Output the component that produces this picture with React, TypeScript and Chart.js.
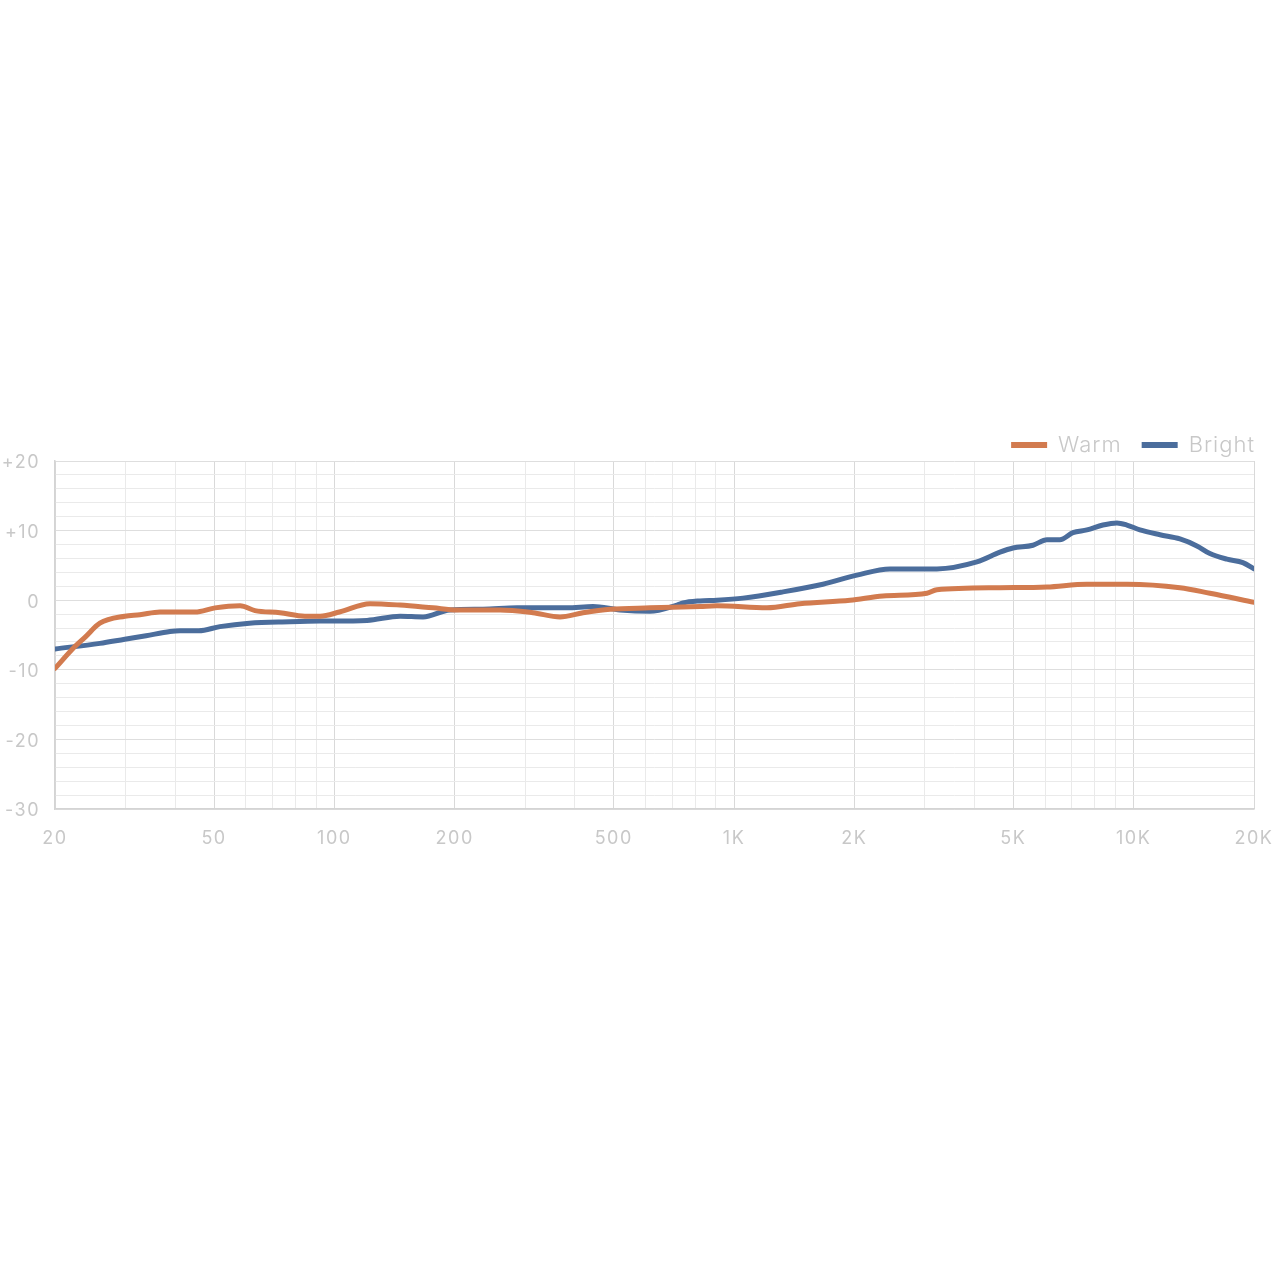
import React, { useEffect, useRef } from "react";
import { Chart, registerables } from "chart.js";

Chart.register(...registerables);

const warmFreq = [20, 22.4, 23.8, 25.9, 29.9, 32.6, 36.6, 44.8, 50.3, 58.1, 63.3, 73.1, 84.4, 92.1, 103, 122.8, 146, 176.5, 202.7, 259.7, 314, 367, 419, 490, 616, 822, 906, 1209, 1462, 1951, 2358, 3039, 3218, 4628, 6066, 7637, 9617, 13054, 15515, 20000];
const warmDb = [-9.8, -6.7, -5.3, -3.3, -2.3, -2.1, -1.7, -1.7, -1.1, -0.8, -1.5, -1.8, -2.3, -2.3, -1.7, -0.5, -0.7, -1.1, -1.4, -1.4, -1.8, -2.4, -1.8, -1.3, -1.1, -0.9, -0.8, -1.1, -0.5, 0.0, 0.6, 1.0, 1.5, 1.8, 1.9, 2.3, 2.3, 1.8, 1.0, -0.3];

const brightFreq = [20, 25.9, 29.9, 33.8, 38.8, 41.1, 45.8, 51.7, 61.3, 77.4, 92.1, 120.7, 146, 166.7, 194.6, 235.5, 286.4, 382, 443.7, 518, 616, 720, 745, 822, 906, 1053, 1326, 1669, 2030, 2456, 3218, 4051, 4628, 4988, 5597, 6066, 6536, 7047, 7637, 8375, 9078, 9617, 10366, 11635, 13054, 14393, 15515, 17111, 18759, 20000];
const brightDb = [-7.0, -6.2, -5.6, -5.1, -4.5, -4.4, -4.4, -3.8, -3.3, -3.1, -3.0, -2.9, -2.3, -2.4, -1.4, -1.3, -1.1, -1.1, -0.9, -1.4, -1.6, -0.7, -0.4, -0.1, 0.0, 0.3, 1.2, 2.3, 3.6, 4.5, 4.5, 5.5, 6.9, 7.5, 7.9, 8.7, 8.7, 9.7, 10.1, 10.8, 11.1, 10.8, 10.1, 9.4, 8.8, 7.8, 6.7, 5.9, 5.4, 4.5];

const seriesNames = ["Warm", "Bright"];
const seriesColors = ["#D27B4F", "#4B6D9C"];

const xGridValues = [20, 30, 40, 50, 60, 70, 80, 90, 100, 200, 300, 400, 500, 600, 700, 800, 900, 1000, 2000, 3000, 4000, 5000, 6000, 7000, 8000, 9000, 10000, 20000];
const xLabelValues = [20, 50, 100, 200, 500, 1000, 2000, 5000, 10000, 20000];

const FONT = "Inter, 'Noto Sans', sans-serif";
const TEXT_COLOR = "#c8c8c8";

function fmtFreq(v: number): string {
  return v >= 1000 ? `${v / 1000}K` : `${v}`;
}

const spacingPlugin = {
  id: "letterSpacing",
  beforeDraw(chart: any) {
    chart.ctx.letterSpacing = "1.5px";
  },
};

const legendPlugin = {
  id: "customLegend",
  afterDraw(chart: any) {
    const ctx = chart.ctx;
    const y = 445;
    ctx.save();
    ctx.letterSpacing = "1px";
    ctx.font = `300 22px ${FONT}`;
    ctx.textBaseline = "middle";
    ctx.textAlign = "left";
    let x = chart.chartArea.right + 1;
    for (let i = chart.data.datasets.length - 1; i >= 0; i--) {
      const ds = chart.data.datasets[i];
      const w = ctx.measureText(ds.label).width;
      ctx.fillStyle = TEXT_COLOR;
      ctx.fillText(ds.label, x - w, y);
      const sx = x - w - 11 - 36;
      ctx.fillStyle = ds.borderColor;
      ctx.fillRect(sx, y - 3, 36, 6);
      x = sx - 20;
    }
    ctx.restore();
  },
};

export default function App() {
  const ref = useRef<HTMLCanvasElement | null>(null);

  useEffect(() => {
    if (!ref.current) return;
    const chart = new Chart(ref.current, {
      type: "line",
      data: {
        datasets: [
          {
            label: seriesNames[0],
            data: warmFreq.map((f, i) => ({ x: f, y: warmDb[i] })),
            borderColor: seriesColors[0],
            backgroundColor: seriesColors[0],
            borderWidth: 5,
            pointRadius: 0,
            tension: 0.4,
            cubicInterpolationMode: "monotone",
            borderCapStyle: "round",
            borderJoinStyle: "round",
          },
          {
            label: seriesNames[1],
            data: brightFreq.map((f, i) => ({ x: f, y: brightDb[i] })),
            borderColor: seriesColors[1],
            backgroundColor: seriesColors[1],
            borderWidth: 5,
            pointRadius: 0,
            tension: 0.4,
            cubicInterpolationMode: "monotone",
            borderCapStyle: "round",
            borderJoinStyle: "round",
          },
        ],
      },
      options: {
        animation: false,
        responsive: false,
        maintainAspectRatio: false,
        layout: { padding: { top: 461, left: 0, right: 26, bottom: 421 } },
        plugins: { legend: { display: false }, tooltip: { enabled: false } },
        scales: {
          x: {
            type: "logarithmic",
            min: 20,
            max: 20000,
            afterBuildTicks: (scale: any) => {
              scale.ticks = xGridValues.map((v) => ({ value: v }));
            },
            afterFit: (scale: any) => {
              scale.height = 50;
              scale.paddingLeft = 0;
              scale.paddingRight = 0;
            },
            ticks: {
              autoSkip: false,
              maxRotation: 0,
              minRotation: 0,
              padding: 19,
              color: TEXT_COLOR,
              font: { family: FONT, size: 18 },
              callback: (v: any) => (xLabelValues.includes(Number(v)) ? fmtFreq(Number(v)) : ""),
            },
            grid: {
              drawTicks: false,
              color: (c: any) => (c.tick && xLabelValues.includes(c.tick.value) ? "#d9d9d9" : "#eaeaea"),
              lineWidth: 1,
            },
            border: { color: "#d4d4d4", width: 1.5 },
          },
          y: {
            min: -30,
            max: 20,
            afterFit: (scale: any) => {
              scale.width = 55;
            },
            ticks: {
              stepSize: 2,
              autoSkip: false,
              padding: 15,
              labelOffset: 2,
              color: TEXT_COLOR,
              font: { family: FONT, size: 18 },
              callback: (v: any) => {
                const n = Number(v);
                if (n % 10 !== 0) return "";
                return n > 0 ? `+${n}` : `${n}`;
              },
            },
            grid: {
              drawTicks: false,
              color: (c: any) => (c.tick && c.tick.value % 10 === 0 ? "#dedede" : "#eaeaea"),
              lineWidth: 1,
            },
            border: { color: "#d4d4d4", width: 1.5 },
          },
        },
      },
      plugins: [spacingPlugin, legendPlugin],
    } as any);
    return () => chart.destroy();
  }, []);

  return (
    <div style={{ position: "absolute", left: 0, top: 0, width: 1280, height: 1280, background: "#fff" }}>
      <canvas ref={ref} width={1280} height={1280} style={{ width: 1280, height: 1280, display: "block" }} />
    </div>
  );
}
